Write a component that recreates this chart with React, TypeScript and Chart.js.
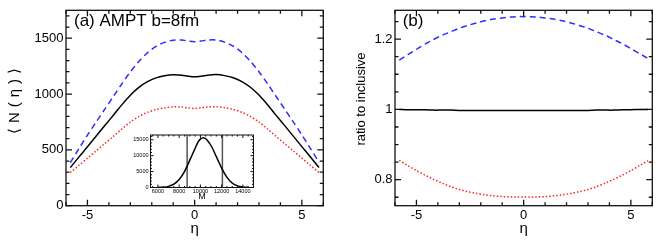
import React, { useEffect, useRef } from 'react';
import { Chart, registerables } from 'chart.js';
Chart.register(...registerables);

// ---- data ----
const eta = [-5.8,-5.4,-5.0,-4.6,-4.2,-3.8,-3.4,-3.0,-2.6,-2.2,-1.8,-1.4,-1.0,-0.6,-0.3,0,0.3,0.6,1.0,1.4,1.8,2.2,2.6,3.0,3.4,3.8,4.2,4.6,5.0,5.4,5.8];
const nInclusive = [341,435,528,622,716,808,903,990,1060,1111,1145,1164,1173,1169,1160,1155,1160,1169,1174,1165,1146,1112,1061,991,904,809,717,623,529,436,342];
const nHigh = [386,510,632,748,862,976,1090,1198,1292,1370,1427,1463,1482,1484,1474,1468,1474,1484,1484,1465,1429,1372,1294,1200,1092,978,864,750,634,512,388];
const nLow = [297,360,425,490,555,620,686,748,798,836,861,877,885,884,876,871,876,884,886,878,862,837,799,749,687,621,556,491,426,361,298];

const ratioHigh = [1.140,1.156,1.171,1.186,1.199,1.211,1.221,1.231,1.239,1.246,1.252,1.257,1.260,1.263,1.264,1.264,1.264,1.263,1.260,1.257,1.252,1.246,1.239,1.231,1.221,1.211,1.199,1.187,1.173,1.159,1.145];
const ratioInclusive = [1.000,0.999,0.999,0.999,0.998,0.998,0.998,0.997,0.997,0.997,0.997,0.997,0.997,0.997,0.997,0.997,0.997,0.997,0.997,0.997,0.997,0.997,0.997,0.997,0.998,0.998,0.998,0.999,0.999,1.000,1.000];
const ratioLow = [0.855,0.840,0.826,0.813,0.801,0.790,0.780,0.772,0.766,0.761,0.757,0.754,0.752,0.751,0.751,0.751,0.751,0.751,0.752,0.754,0.757,0.761,0.766,0.772,0.780,0.790,0.801,0.813,0.826,0.840,0.854];

const insetM = [6000,6500,7000,7500,8000,8500,9000,9500,9800,10000,10200,10400,10600,11000,11500,12000,12500,13000,13500,14000,14500];
const insetCounts = [30,110,360,1050,2500,5000,8600,12300,14400,15200,15600,15500,15000,13200,9700,6100,3200,1400,500,150,40];
const insetCuts = [8750, 12070];

// tick labels
const etaTicks = [-5, 0, 5];
const leftYTicks = [0, 500, 1000, 1500];
const rightYTicks = [0.8, 1, 1.2];
const insetXTicks = [6000, 8000, 10000, 12000, 14000];
const insetYTicks = [0, 5000, 10000, 15000];

const etaAxis = { min: -6, max: 6, minor: 1 };
const leftY = { min: 0, max: 1750, minor: 100 };
const rightY = { min: 0.726, max: 1.282, minor: 0.05 };
const insetX = { min: 5300, max: 15000, minor: 500 };
const insetY = { min: 0, max: 16500, minor: 1000 };

const FONT = "'Liberation Sans', Arial, Helvetica, sans-serif";
const BLUE = 'rgb(45,45,255)';
const RED = 'rgb(255,35,35)';

const frameTicks = {
  id: 'frameTicks',
  afterDraw(chart: any, _args: any, opts: any) {
    const { ctx, chartArea: a } = chart;
    const xs = chart.scales.x, ys = chart.scales.y;
    const M = opts.major ?? 6, m = opts.minorLen ?? 3.5;
    ctx.save();
    ctx.strokeStyle = '#111';
    ctx.lineWidth = opts.lw ?? 1.3;
    ctx.beginPath();
    const isMajor = (s: any, v: number) => s.ticks.some((t: any) => Math.abs(t.value - v) < 1e-7);
    const dx = (v: number, len: number) => {
      const p = xs.getPixelForValue(v);
      ctx.moveTo(p, a.bottom); ctx.lineTo(p, a.bottom - len);
      ctx.moveTo(p, a.top); ctx.lineTo(p, a.top + len);
    };
    const dy = (v: number, len: number) => {
      const p = ys.getPixelForValue(v);
      ctx.moveTo(a.left, p); ctx.lineTo(a.left + len, p);
      ctx.moveTo(a.right, p); ctx.lineTo(a.right - len, p);
    };
    xs.ticks.forEach((t: any) => dx(t.value, M));
    ys.ticks.forEach((t: any) => dy(t.value, M));
    const minorLoop = (s: any, step: number, fn: any) => {
      const start = Math.ceil(s.min / step - 1e-9);
      for (let i = start; i * step <= s.max + 1e-9; i++) {
        const v = +(i * step).toFixed(6);
        if (!isMajor(s, v)) fn(v, m);
      }
    };
    if (opts.xMinor) minorLoop(xs, opts.xMinor, dx);
    if (opts.yMinor) minorLoop(ys, opts.yMinor, dy);
    ctx.stroke();
    ctx.strokeRect(a.left, a.top, a.right - a.left, a.bottom - a.top);
    ctx.fillStyle = '#000';
    if (opts.label) {
      ctx.font = `${opts.label.size}px ${FONT}`;
      ctx.textBaseline = 'alphabetic';
      ctx.textAlign = 'left';
      ctx.fillText(opts.label.text, opts.label.x, opts.label.y);
    }
    if (opts.yTitle) {
      const t = opts.yTitle;
      ctx.save();
      ctx.translate(t.x, t.y);
      ctx.rotate(-Math.PI / 2);
      ctx.font = `${t.size}px ${FONT}`;
      (ctx as any).letterSpacing = `${t.spacing || 0}px`;
      ctx.textAlign = 'center';
      ctx.textBaseline = 'middle';
      ctx.fillText(t.text, (t.spacing || 0) / 2, 0);
      ctx.restore();
    }
    ctx.restore();
  },
};

const line = (xs: number[], ys: number[], color: string, dash: number[], width = 1.5) => ({
  data: xs.map((x, i) => ({ x, y: ys[i] })),
  borderColor: color,
  borderDash: dash,
  borderWidth: width,
  pointRadius: 0,
  tension: 0.3,
  fill: false,
});

const fmt = (v: any) => String(+Number(v).toFixed(3));
const setTicks = (vals: number[]) => (s: any) => { s.ticks = vals.map((v) => ({ value: v })); };

function mainConfig(opts: any) {
  return {
    type: 'line',
    data: { datasets: opts.datasets },
    options: {
      responsive: false,
      animation: false,
      devicePixelRatio: 1,
      layout: { padding: { top: 4.3, right: opts.padRight, left: 0, bottom: 0 } },
      plugins: {
        legend: { display: false },
        tooltip: { enabled: false },
        frameTicks: { xMinor: etaAxis.minor, yMinor: opts.y.minor, major: 6, minorLen: 3.5, lw: 1.3, label: opts.label, yTitle: opts.yTitle },
      },
      scales: {
        x: {
          type: 'linear', min: etaAxis.min, max: etaAxis.max,
          afterBuildTicks: setTicks(etaTicks),
          ticks: { padding: 2, color: '#000', maxRotation: 0, autoSkip: false, font: { family: FONT, size: 13 }, callback: fmt },
          grid: { display: false, drawTicks: false }, border: { display: false },
          title: { display: true, text: 'η', color: '#000', font: { family: FONT, size: 15 }, padding: { top: 0, bottom: 5 } },
          afterFit: (s: any) => { s.height = 37.3; },
        },
        y: {
          type: 'linear', min: opts.y.min, max: opts.y.max,
          afterBuildTicks: setTicks(opts.yTicks),
          ticks: { padding: 2.5, color: '#000', autoSkip: false, font: { family: FONT, size: 13 }, callback: fmt },
          grid: { display: false, drawTicks: false }, border: { display: false },
          afterFit: (s: any) => { s.width = opts.yWidth; },
        },
      },
    },
    plugins: [frameTicks],
  };
}

function insetConfig() {
  const f = { family: FONT, size: 5.5 };
  return {
    type: 'line',
    data: {
      datasets: [
        line(insetM, insetCounts, '#000', [], 1.5),
        ...insetCuts.map((c) => ({ ...line([c, c], [insetY.min, insetY.max], '#555', [], 1.5), tension: 0 })),
      ],
    },
    options: {
      responsive: false,
      animation: false,
      devicePixelRatio: 1,
      layout: { padding: { top: 7, right: 10.5, left: 0, bottom: 0 } },
      plugins: {
        legend: { display: false },
        tooltip: { enabled: false },
        frameTicks: { xMinor: insetX.minor, yMinor: insetY.minor, major: 3, minorLen: 1.5, lw: 1 },
      },
      scales: {
        x: {
          type: 'linear', min: insetX.min, max: insetX.max,
          afterBuildTicks: setTicks(insetXTicks),
          ticks: { padding: 1, color: '#000', maxRotation: 0, autoSkip: false, font: f, callback: fmt },
          grid: { display: false, drawTicks: false }, border: { display: false },
          title: { display: true, text: 'M', color: '#000', font: { family: FONT, size: 9 }, padding: { top: 0, bottom: 3.9 } },
          afterFit: (s: any) => { s.height = 18.5; },
        },
        y: {
          type: 'linear', min: insetY.min, max: insetY.max,
          afterBuildTicks: setTicks(insetYTicks),
          ticks: { padding: 2, color: '#000', autoSkip: false, font: f, callback: fmt },
          grid: { display: false, drawTicks: false }, border: { display: false },
          afterFit: (s: any) => { s.width = 38.5; },
        },
      },
    },
    plugins: [frameTicks],
  };
}

function ChartCanvas({ config, style, width, height }: any) {
  const ref = useRef<HTMLCanvasElement>(null);
  useEffect(() => {
    const chart = new Chart(ref.current as HTMLCanvasElement, config() as any);
    return () => chart.destroy();
  }, []);
  return <canvas ref={ref} width={width} height={height} style={{ position: 'absolute', width, height, ...style }} />;
}

export default function App() {
  const left = () => mainConfig({
    datasets: [
      line(eta, nHigh, BLUE, [6, 4]),
      line(eta, nInclusive, '#000', []),
      line(eta, nLow, RED, [1.5, 2]),
    ],
    y: leftY, yTicks: leftYTicks, padRight: 8.7, yWidth: 66,
    yTitle: { text: '⟨N(η)⟩', x: 15, y: 101, size: 15, spacing: 5 },
    label: { text: '(a) AMPT b=8fm', x: 74, y: 26, size: 17 },
  });
  const right = () => mainConfig({
    datasets: [
      line(eta, ratioHigh, BLUE, [6, 4]),
      line(eta, ratioInclusive, '#000', []),
      line(eta, ratioLow, RED, [1.5, 2]),
    ],
    y: rightY, yTicks: rightYTicks, padRight: 11.7, yWidth: 63,
    yTitle: { text: 'ratio to inclusive', x: 29.7, y: 99, size: 13, spacing: 0 },
    label: { text: '(b)', x: 70.7, y: 26, size: 17 },
  });
  return (
    <div style={{ position: 'absolute', left: 0, top: 0, width: 664, height: 243, background: '#fff', overflow: 'hidden' }}>
      <ChartCanvas config={left} width={332} height={243} style={{ left: 0, top: 0 }} />
      <ChartCanvas config={right} width={332} height={243} style={{ left: 332, top: 0 }} />
      <ChartCanvas config={insetConfig} width={152} height={78} style={{ left: 112, top: 128 }} />
    </div>
  );
}
